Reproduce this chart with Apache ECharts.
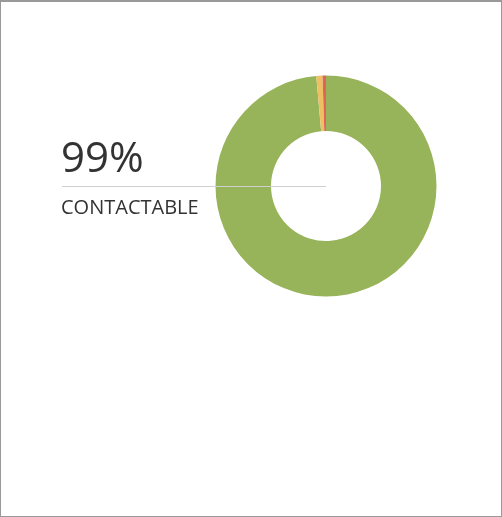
<!DOCTYPE html>
<html>
<head>
<meta charset="utf-8">
<script src="https://cdn.jsdelivr.net/npm/echarts@6/dist/echarts.min.js"></script>
<style>
  html, body { margin: 0; padding: 0; background: #fff; }
  #frame { position: absolute; left: 0; top: 0; width: 500px; height: 514px;
           border: 1px solid #999; border-top-width: 2px; background: #fff; }
  #chart { width: 500px; height: 514px; }
</style>
</head>
<body>
<div id="frame"><div id="chart"></div></div>
<script>
// Contactability breakdown
const categories = ['Contactable', 'Partially contactable', 'Not contactable'];
const values = [98.6, 0.9, 0.5];
const colors = ['#98b45a', '#efc062', '#e0645a'];
const headlineValue = '99%';
const headlineLabel = 'CONTACTABLE';

const chart = echarts.init(document.getElementById('chart'), null, { renderer: 'canvas' });

chart.setOption({
  animation: false,
  series: [{
    type: 'pie',
    center: [325, 184],
    radius: [55, 110.5],
    startAngle: 90,
    clockwise: true,
    label: { show: false },
    labelLine: { show: false },
    emphasis: { disabled: true },
    itemStyle: { borderWidth: 0 },
    data: categories.map((name, i) => ({
      name: name,
      value: values[i],
      itemStyle: { color: colors[i] }
    }))
  }],
  graphic: [
    {
      type: 'text',
      left: 60, top: 137,
      style: {
        text: headlineValue,
        font: '400 42px "Open Sans", sans-serif',
        fill: '#333'
      }
    },
    {
      type: 'line',
      shape: { x1: 61, y1: 184.5, x2: 325, y2: 184.5 },
      style: { stroke: '#cfcfcf', lineWidth: 1 },
      z: 100
    },
    {
      type: 'text',
      left: 60, top: 196,
      style: {
        text: headlineLabel,
        font: '400 20px "Open Sans", sans-serif',
        fill: '#333'
      }
    }
  ]
});
</script>
</body>
</html>
